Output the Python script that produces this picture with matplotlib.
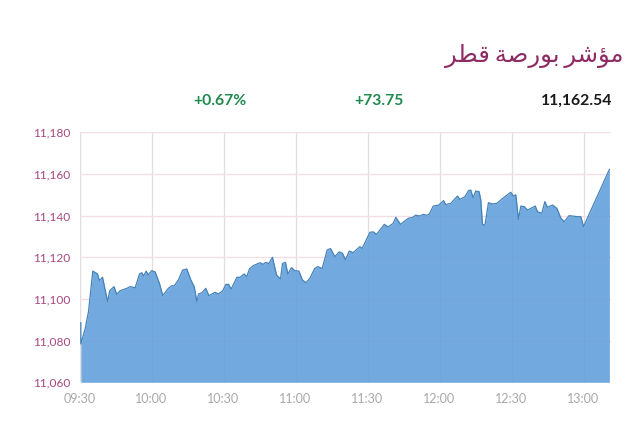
import matplotlib
matplotlib.use("Agg")
import matplotlib.pyplot as plt

minutes = [0.55,0.55,2.4,3.75,5.55,7.5,8.3,9.6,11.7,12.6,14.4,15.5,17,19.7,21.1,23.2,25,26,26.7,27.8,28.6,30.1,31.5,33.3,34.7,37,38.5,39.4,41.2,43,44.7,46.4,47.8,48.9,49.6,51,52.6,53.9,56.5,57.9,59.7,61,62.1,63.2,65.6,66.9,68.6,69.7,70.8,
72.4,75.2,76.5,77.6,78.9,80.4,82.1,83.75,84.6,85.8,86.8,88.3,89.7,91.4,92.9,94.3,96,98,99.4,101.1,103.2,104.6,106.4,108.2,109.6,110.8,112.4,114,116.8,117.8,121,122.4,123.75,127,128.6,130.7,131.8,133.75,137,139,140,141.8,143.2,144.6,145.7,
147.4,149.6,151.7,152.6,154.7,157.5,158.5,160.6,162.1,163,164,165.1,166.5,167.2,167.9,168.9,170.4,172.1,173.9,176.9,179.7,180.8,181.8,182.9,183.9,185.3,186.7,189.9,190.8,192.6,193.9,195,197.1,198.9,200.6,202,204,207.5,208.9,210,220.8]
values = [11088.6,11078.4,11085.9,11093.9,11113.4,11112,11108.8,11110.4,11098.7,11104,11105.9,11102.2,11104,11105.1,11105.9,11105.4,11112,11112.6,11111,11113.4,11111.5,11113.6,11113,11107.5,11101.6,11105.1,11106.4,11106.2,11109.1,11113.9,11114.4,11109.1,11105.9,11098.7,11102.4,11103,11105.1,11101.6,11103.2,11102.4,11104,11107,11107,11104.8,11110.4,11110.4,11112,11110.7,11114.4,
11116,11117.4,11116.6,11117.6,11117,11120,11111.5,11109.6,11117,11117.6,11112,11115,11113.6,11113.4,11109.1,11107.8,11109.9,11114.7,11115.5,11114.6,11123.5,11124.2,11120.3,11122.6,11121.9,11118.7,11123,11122.2,11125.1,11124.3,11132,11132.2,11131,11135.8,11134.6,11136.3,11139.2,11135.8,11138.7,11139.2,11140.2,11139.8,11140.6,11140.2,11140.6,
11144.6,11145,11147.2,11145.3,11145.9,11149.4,11147.8,11149.1,11152,11152.3,11148.6,11151.8,11151.5,11147.5,11136,11135.2,11146.2,11145.6,11145.9,11148.8,11151.2,11149.4,11150,11138.2,11144.6,11144.3,11142.7,11144.6,11141.9,11141.1,11146.7,11144,11145.1,11143.5,11138.7,11137.1,11140,11139.5,11139.5,11134.7,11162.2]
x_ticks = [0,30,60,90,120,150,180,210]
x_labels = ["09:30","10:00","10:30","11:00","11:30","12:00","12:30","13:00"]
y_ticks = [11060,11080,11100,11120,11140,11160,11180]
y_labels = ["11,060","11,080","11,100","11,120","11,140","11,160","11,180"]
# Arabic title in presentation forms, visual order (matplotlib does not shape Arabic)
title_logical = "\uFEE3\uFE86\uFEB7\uFEAE\u2009\uFE91\uFEEE\uFEAD\uFEBB\uFE94\u2009\uFED7\uFEC4\uFEAE"
title_visual = title_logical[::-1]
stat_pct = "+0.67%"
stat_chg = "+73.75"
stat_val = "11,162.54"

plt.rcParams['font.family'] = ['Lato', 'DejaVu Sans']
W, H = 640, 422
fig = plt.figure(figsize=(W/100, H/100), dpi=100, facecolor='white')
ax = fig.add_axes([79.5/W, 1-382.3/H, (611-79.5)/W, (382.3-132.3)/H])
ax.set_xlim(0, (611-79.5)/2.4)
ax.set_ylim(11060, 11180)
for s in ax.spines.values():
    s.set_visible(False)
ax.set_xticks(x_ticks, x_labels)
ax.set_yticks(y_ticks, y_labels)
ax.tick_params(axis='both', length=0)
ax.tick_params(axis='x', colors='#a8a8a8', labelsize=9, pad=8)
ax.tick_params(axis='y', colors='#a8487f', labelsize=8.6, pad=6.5)
ax.set_axisbelow(True)
ax.grid(axis='y', color='#f5dde4', lw=0.9)
ax.grid(axis='x', color='#e3dce0', lw=0.9)
ax.axvline(0, color='#e9e2e6', lw=0.9, zorder=0)
ax.fill_between(minutes, values, 11060, color='#5f9fdb', alpha=0.88, lw=0, zorder=2)
ax.plot(minutes, values, color='#4582b8', lw=0.9, zorder=3)

fig.text(623/W, 1-56/H, title_visual, family='DejaVu Sans', fontsize=17.5, color='#8e2b63', ha='right', va='center')
fig.text(220/W, 1-101/H, stat_pct, fontsize=11.3, weight='bold', color='#1f8a4d', ha='center', va='center')
fig.text(379/W, 1-101/H, stat_chg, fontsize=11.3, weight='bold', color='#1f8a4d', ha='center', va='center')
fig.text(612/W, 1-101/H, stat_val, fontsize=11.3, weight='bold', color='#1a1a1a', ha='right', va='center')
fig.savefig('out.png', dpi=100)
